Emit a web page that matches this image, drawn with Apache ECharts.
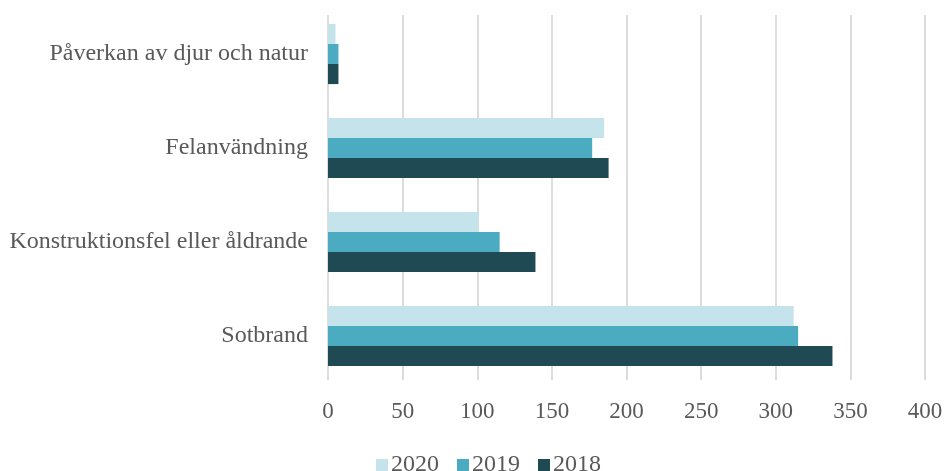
<!DOCTYPE html>
<html>
<head>
<meta charset="utf-8">
<script src="https://cdn.jsdelivr.net/npm/echarts@6/dist/echarts.min.js"></script>
<style>html,body{margin:0;padding:0;background:#fff}#c{width:947px;height:471px}</style>
</head>
<body>
<div id="c"></div>
<script>
const categories = ['Sotbrand', 'Konstruktionsfel eller åldrande', 'Felanvändning', 'Påverkan av djur och natur'];
const values2018 = [338, 139, 188, 7];
const values2019 = [315, 115, 177, 7];
const values2020 = [312, 101, 185, 5];
const seriesNames = ['2020', '2019', '2018'];
const legendOrder = ['2020', '2019', '2018'];
const xTicks = {min: 0, max: 400, interval: 50};

const FONT = '"Liberation Serif", "Times New Roman", serif';
const TXT = '#595959';
const colors = {'2018': '#1f4a54', '2019': '#4bacc1', '2020': '#c5e3ea'};
const data = {'2018': values2018, '2019': values2019, '2020': values2020};

const chart = echarts.init(document.getElementById('c'), null, {renderer: 'canvas'});
chart.setOption({
  animation: false,
  backgroundColor: '#fff',
  textStyle: {fontFamily: FONT},
  grid: [
    {left: 328, right: 22, top: 7, bottom: 88},
    {left: 328, right: 22, top: 15, bottom: 91}
  ],
  legend: {
    data: legendOrder,
    top: 448,
    left: 371,
    icon: 'rect',
    itemWidth: 12,
    itemHeight: 12,
    itemGap: 18,
    textStyle: {fontFamily: FONT, fontSize: 24, color: TXT, padding: [0, 0, 0, -2]}
  },
  xAxis: [
    {gridIndex: 0, type: 'value', min: xTicks.min, max: xTicks.max, interval: xTicks.interval,
     show: false},
    {gridIndex: 1, type: 'value', min: xTicks.min, max: xTicks.max, interval: xTicks.interval,
     axisLine: {show: false}, axisTick: {show: false},
     axisLabel: {fontFamily: FONT, fontSize: 23, color: TXT, margin: 20},
     splitLine: {show: true, lineStyle: {color: '#dcdcdc', width: 2}}}
  ],
  yAxis: [
    {gridIndex: 0, type: 'category', data: categories,
     axisLine: {show: false}, axisTick: {show: false},
     axisLabel: {fontFamily: FONT, fontSize: 24, color: TXT, margin: 20},
     splitLine: {show: false}},
    {gridIndex: 1, type: 'category', data: categories, show: false}
  ],
  series: seriesNames.map(n => ({
    name: n,
    type: 'bar',
    xAxisIndex: 0,
    yAxisIndex: 0,
    data: data[n],
    itemStyle: {color: colors[n]},
    barGap: '0%',
    barCategoryGap: '36%'
  }))
});
</script>
</body>
</html>
